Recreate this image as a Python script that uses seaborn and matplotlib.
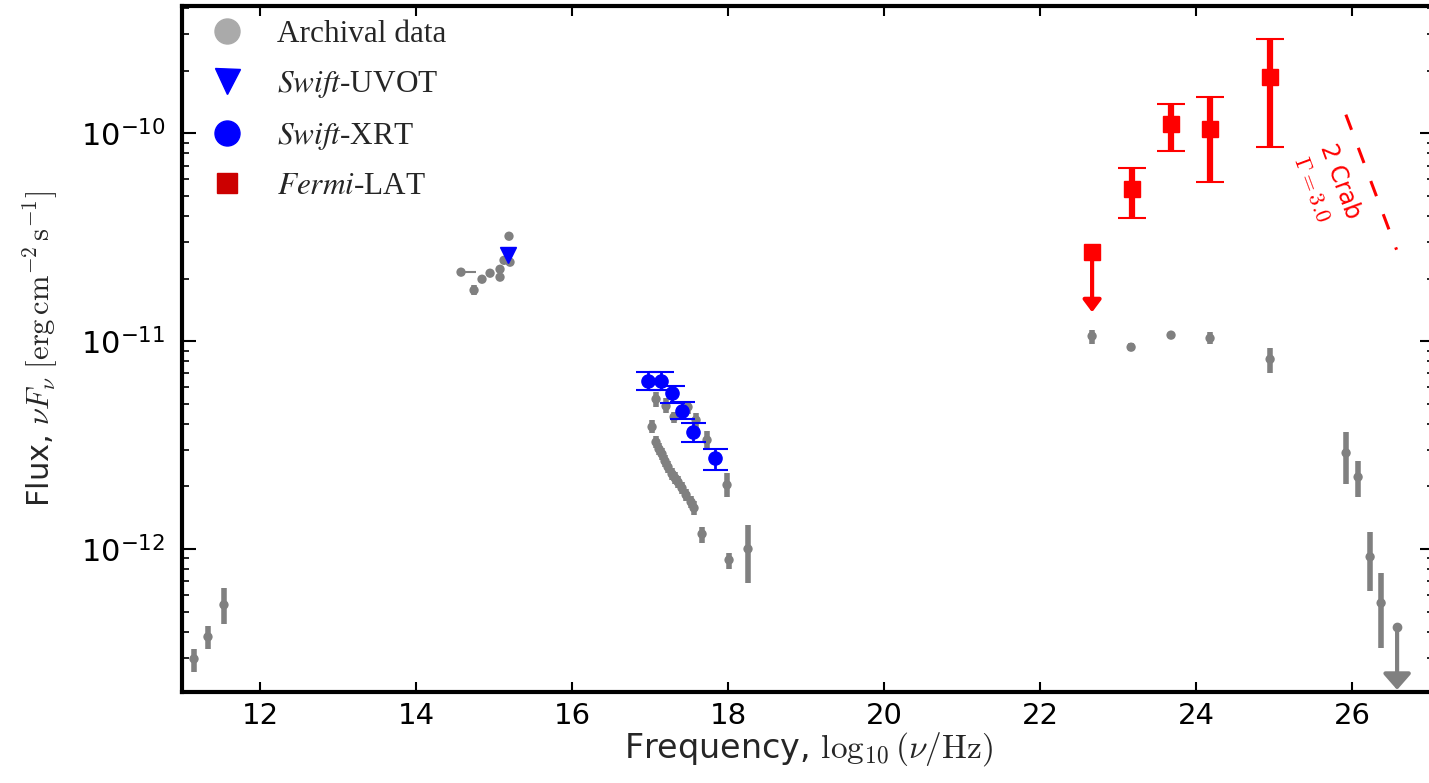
import numpy as np
import matplotlib
matplotlib.use("Agg")
import matplotlib.pyplot as plt
from matplotlib.lines import Line2D
from matplotlib.ticker import NullFormatter
import seaborn as sns

# ---- data (x = log10 nu/Hz, y = log10 nuFnu) ----
# archival radio
radio_x = [11.154, 11.333, 11.538]
radio_logf = [-12.529, -12.423, -12.269]
radio_lo = [0.062, 0.058, 0.092]
radio_hi = [0.048, 0.053, 0.081]

# archival optical / UV
opt_x = [14.577, 14.744, 14.846, 14.949, 15.077, 15.077, 15.128, 15.205, 15.192]
opt_logf = [-10.668, -10.755, -10.702, -10.673, -10.654, -10.692, -10.611, -10.620, -10.495]
opt_lo = [0.01, 0.025, 0.01, 0.01, 0.01, 0.01, 0.01, 0.01, 0.01]
opt_hi = [0.01, 0.025, 0.01, 0.01, 0.01, 0.01, 0.01, 0.01, 0.01]

# archival X-ray
xr_x = [17.077, 17.205, 17.308, 17.487, 17.590, 17.731, 17.987,
        17.026, 17.077, 17.115, 17.154, 17.192, 17.231, 17.282, 17.321,
        17.359, 17.410, 17.462, 17.526, 17.564, 17.667, 18.013, 18.256]
xr_logf = [-11.279, -11.3125, -11.365, -11.317, -11.380, -11.476, -11.692,
           -11.413, -11.486, -11.519, -11.543, -11.577, -11.606, -11.639, -11.659,
           -11.678, -11.707, -11.740, -11.774, -11.803, -11.928, -12.053, -12.0]
xr_lo = [0.038, 0.034, 0.029, 0.034, 0.038, 0.043, 0.058,
         0.029, 0.03, 0.03, 0.03, 0.03, 0.03, 0.03, 0.03,
         0.03, 0.03, 0.03, 0.03, 0.035, 0.043, 0.043, 0.163]
xr_hi = [0.034, 0.038, 0.024, 0.029, 0.034, 0.043, 0.057,
         0.033, 0.03, 0.03, 0.03, 0.03, 0.03, 0.03, 0.03,
         0.03, 0.03, 0.03, 0.03, 0.035, 0.034, 0.034, 0.115]

# archival gamma-ray
ga_x = [22.667, 23.167, 23.679, 24.179, 24.949]
ga_logf = [-10.976, -11.029, -10.971, -10.986, -11.087]
ga_lo = [0.038, 0.02, 0.015, 0.03, 0.067]
ga_hi = [0.029, 0.02, 0.015, 0.03, 0.053]

# archival TeV
tev_x = [25.923, 26.077, 26.231, 26.372]
tev_logf = [-11.538, -11.654, -12.038, -12.260]
tev_lo = [0.15, 0.096, 0.164, 0.216]
tev_hi = [0.10, 0.077, 0.12, 0.145]
tev_ul_x = 26.577
tev_ul_logf = -12.375
tev_ul_end = -12.678

# Swift-UVOT
uvot_x = [15.179]
uvot_logf = [-10.587]

# Swift-XRT
xrt_x = [16.974, 17.141, 17.282, 17.410, 17.551, 17.833]
xrt_logf = [-11.192, -11.192, -11.25, -11.337, -11.4375, -11.5625]
xrt_lo = [0.044, 0.044, 0.048, 0.038, 0.049, 0.058]
xrt_hi = [0.043, 0.043, 0.034, 0.044, 0.043, 0.043]

# Fermi-LAT
lat_x = [23.179, 23.679, 24.179, 24.949]
lat_logf = [-10.269, -9.957, -9.981, -9.731]
lat_lo = [0.140, 0.130, 0.255, 0.336]
lat_hi = [0.101, 0.096, 0.154, 0.183]
lat_ul_x = 22.667
lat_ul_logf = -10.572
lat_ul_end = -10.861

# 2 Crab, Gamma = 3.0 sensitivity segment
crab_x = [25.92, 26.57]
crab_logf = [-9.91, -10.56]

GREY = "#808080"


def flux(v):
    return 10 ** np.asarray(v)


def yerr(logf, lo, hi):
    f = flux(logf)
    return [f - flux(np.asarray(logf) - np.asarray(lo)), flux(np.asarray(logf) + np.asarray(hi)) - f]


sns.set_theme(style="ticks")
plt.rcParams["font.family"] = ["DejaVu Sans"]
plt.rcParams["mathtext.fontset"] = "dejavusans"

fig = plt.figure(figsize=(14.29, 7.83), dpi=100)
ax = fig.add_axes([182 / 1429, 91 / 783, 1252 / 1429, 686 / 783])

# archival data
for xs, lf, lo, hi in [(radio_x, radio_logf, radio_lo, radio_hi),
                       (opt_x, opt_logf, opt_lo, opt_hi),
                       (xr_x, xr_logf, xr_lo, xr_hi),
                       (ga_x, ga_logf, ga_lo, ga_hi),
                       (tev_x, tev_logf, tev_lo, tev_hi)]:
    ax.errorbar(xs, flux(lf), yerr=yerr(lf, lo, hi), fmt="none",
                ecolor=GREY, elinewidth=4, capsize=0, zorder=2)
    sns.scatterplot(x=xs, y=flux(lf), color=GREY, s=45, edgecolor="none",
                    ax=ax, zorder=3, legend=False)

# horizontal bar on first optical point
ax.errorbar([opt_x[0]], flux([opt_logf[0]]), xerr=[[0], [0.19]], fmt="none",
            ecolor=GREY, elinewidth=1.5, zorder=2)

# TeV upper limit
ax.annotate("", xy=(tev_ul_x, flux(tev_ul_end)), xytext=(tev_ul_x, flux(tev_ul_logf)),
            arrowprops=dict(arrowstyle="-|>,head_width=0.7,head_length=0.8",
                            mutation_scale=12, color=GREY, lw=3,
                            shrinkA=0, shrinkB=0), zorder=2)
ax.plot([tev_ul_x], flux([tev_ul_logf]), "o", color=GREY, ms=6, zorder=3)

# Swift-XRT
ax.errorbar(xrt_x, flux(xrt_logf), yerr=yerr(xrt_logf, xrt_lo, xrt_hi), fmt="o",
            color="blue", ms=9.5, elinewidth=2, capsize=9, capthick=1.5, zorder=5)

# Swift-UVOT
ax.plot(uvot_x, flux(uvot_logf), "v", color="blue", ms=12, zorder=5)

# Fermi-LAT
ax.errorbar(lat_x, flux(lat_logf), yerr=yerr(lat_logf, lat_lo, lat_hi), fmt="s",
            color="red", ms=11, elinewidth=4.5, capsize=10, capthick=1.5, zorder=5)
ax.annotate("", xy=(lat_ul_x, flux(lat_ul_end)), xytext=(lat_ul_x, flux(lat_ul_logf)),
            arrowprops=dict(arrowstyle="-|>,head_width=0.45,head_length=0.6",
                            mutation_scale=12, color="red", lw=3,
                            shrinkA=0, shrinkB=0), zorder=5)
ax.plot([lat_ul_x], flux([lat_ul_logf]), "s", color="red", ms=11, zorder=5)

# 2 Crab line
ax.plot(crab_x, flux(crab_logf), color="red", lw=2.2, dashes=(5.3, 6.3), zorder=4)
ax.text(25.85, 10 ** -10.23, "2 Crab", color="red", fontsize=17,
        rotation=-69.7, rotation_mode="anchor", ha="center", va="center")
ax.text(25.48, 10 ** -10.27, r"$\Gamma=3.0$", color="red", fontsize=16,
        rotation=-69.7, rotation_mode="anchor", ha="center", va="center",
        math_fontfamily="cm")

# axes
ax.set_yscale("log")
ax.set_xlim(11, 27.05)
ax.set_ylim(2.05e-13, 4.1e-10)
ax.set_xticks([12, 14, 16, 18, 20, 22, 24, 26])
ax.set_yticks([1e-12, 1e-11, 1e-10])
ax.yaxis.set_minor_formatter(NullFormatter())
ax.tick_params(axis="x", which="major", direction="in", length=7, width=1.5,
               top=True, labelsize=21, pad=7, colors="black")
ax.tick_params(axis="y", which="major", direction="in", length=10, width=1.5,
               right=True, labelsize=22, pad=12, colors="black")
ax.tick_params(axis="y", which="minor", direction="in", length=5, width=1.2,
               right=True, colors="black")
ax.tick_params(axis="x", which="minor", bottom=False, top=False)
for s in ax.spines.values():
    s.set_linewidth(3)
    s.set_color("black")

ax.set_xlabel(r"Frequency, $\log_{10}(\nu/\mathrm{Hz})$", fontsize=24,
              math_fontfamily="cm", labelpad=0)
ax.set_ylabel(r"Flux, $\nu F_\nu\ [\mathrm{erg\,cm^{-2}\,s^{-1}}]$", fontsize=22,
              math_fontfamily="cm", labelpad=14)

# legend
handles = [
    Line2D([], [], marker="o", ls="", color="#aaaaaa", ms=18),
    Line2D([], [], marker="v", ls="", color="blue", ms=18),
    Line2D([], [], marker="o", ls="", color="blue", ms=18),
    Line2D([], [], marker="s", ls="", color="#cc0000", ms=14),
]
labels = ["Archival data", r"$\mathit{Swift}$-UVOT", r"$\mathit{Swift}$-XRT",
          r"$\mathit{Fermi}$-LAT"]
leg = ax.legend(handles, labels, loc="upper left", frameon=False,
                prop={"family": "Liberation Serif", "size": 22.5},
                handlelength=2, handletextpad=0.6, borderaxespad=0.1,
                borderpad=0.35, labelspacing=0.65)
for t in leg.get_texts():
    t.set_math_fontfamily("stix")

fig.savefig("out.png", dpi=100)
